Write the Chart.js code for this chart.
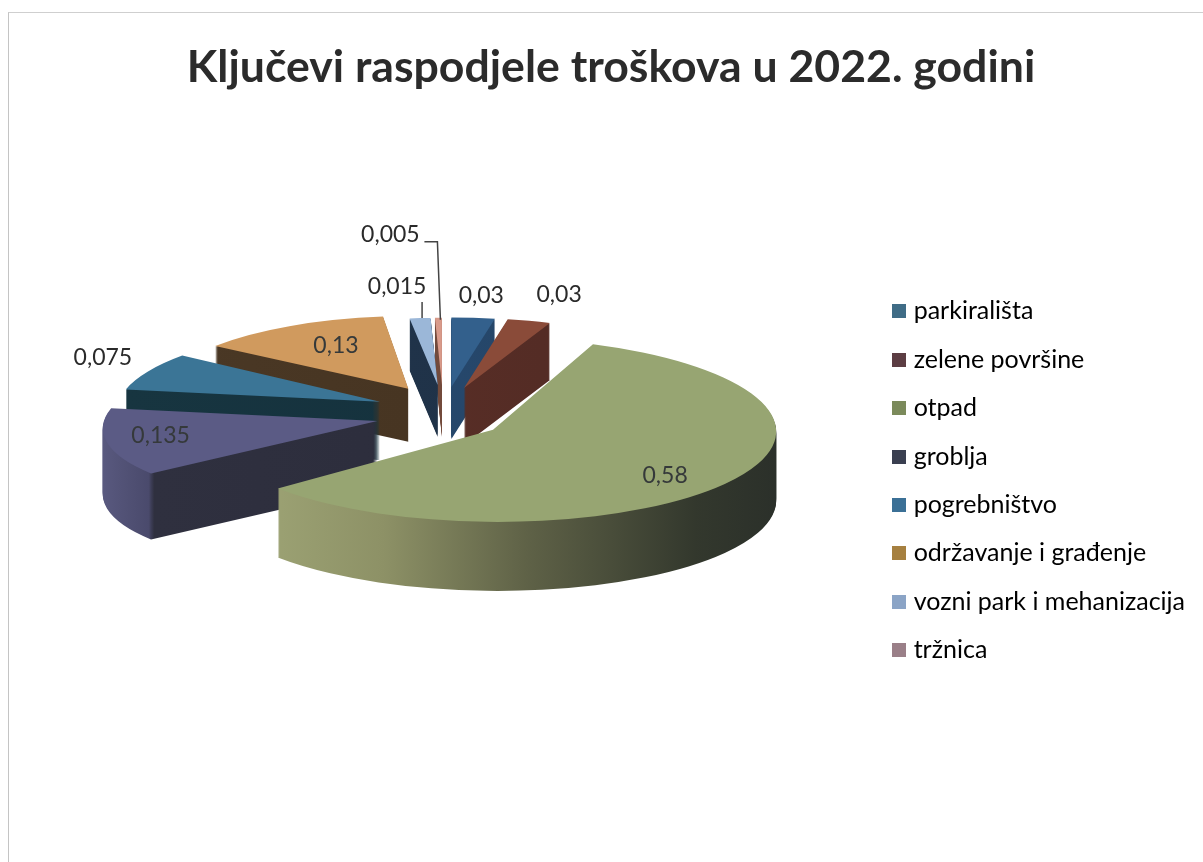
<!DOCTYPE html>
<html>
<head>
<meta charset="utf-8">
<title>Ključevi raspodjele troškova</title>
<script src="https://cdn.jsdelivr.net/npm/chart.js@4"></script>
<style>
  html, body { margin: 0; padding: 0; background: #fff; }
  #wrap { position: relative; width: 1203px; height: 862px; overflow: hidden; }
  #frame { position: absolute; left: 8px; top: 12px; right: -2px; bottom: -2px;
           border-left: 1px solid #c4c4c4; border-top: 1px solid #cfcfcf; }
  canvas { position: absolute; left: 0; top: 0; }
</style>
</head>
<body>
<div id="wrap">
  <div id="frame"></div>
  <canvas id="chart" width="1203" height="862"></canvas>
</div>
<script>
const categories = ['parkirališta', 'zelene površine', 'otpad', 'groblja', 'pogrebništvo',
  'održavanje i građenje', 'vozni park i mehanizacija', 'tržnica'];
const shares = [0.03, 0.03, 0.58, 0.135, 0.075, 0.13, 0.015, 0.005];

const topColors = ['#33608c', '#8a4b39', '#97a572', '#5b5b85', '#3b7596', '#d09a5e', '#9bb7d8', '#d89a8a'];
const legendColors = ['#3f6c86', '#5c3d43', '#7b8a5b', '#3a3f50', '#3b7096', '#a68040', '#8ba4c6', '#9a7f88'];
// side wall shading, left to right over the width of the full pie
const sideStops = [
  [[0, '#2a4f78'], [1, '#22405f']],
  [[0, '#5e3027'], [1, '#4f2a24']],
  [[0, '#a3aa7a'], [0.3, '#8d9166'], [0.55, '#5f6247'], [0.85, '#33382d'], [1, '#2b302a']],
  [[0, '#5a5a80'], [0.11, '#4a4a6c'], [0.12, '#2f303f'], [1, '#2a2b3a']],
  [[0, '#173540'], [1, '#14303c']],
  [[0, '#4a3825'], [1, '#44321f']],
  [[0, '#22364d'], [1, '#1d2f44']],
  [[0, '#7a5040'], [1, '#6a4436']]
];
// label shift from the middle of each slice's outer edge
const labelShift = [[8, -22], [30, -26], [-57, -8], [47, -7], [-36, -14], [51, 19], [-23, -31], [-48, -83]];

const pie = { x: 443, y: 412, pullX: 68, pullY: 27, tilt: 0.3 };
// hand fixes per slice, the fake perspective is not quite enough on its own
const sliceFix = [
  { dx: 2, dy: 2, dr: 8 },
  { dx: 2, dy: 2, dr: 8, dd: 5 },
  { dx: -5, dy: 2, dr: -3, shear: 0.05, tilt: 0.325, dd: 3 },
  { dy: 2, shear: -0.3, dd: 3 },
  { dr: 13, shear: -0.29 },
  { dr: 13, shear: -0.07 },
  {},
  {}
];

// where the slice ends up on screen, nearer slices come out bigger
function place(arc, i) {
  const fix = sliceFix[i];
  const mid = (arc.startAngle + arc.endAngle) / 2;
  const baseY = pie.y + Math.sin(mid) * pie.pullY;
  const tipX = pie.x + Math.cos(mid) * pie.pullX + (fix.dx || 0);
  const tipY = baseY + (fix.dy || 0);
  const radius = 224 + 1.45 * (baseY - 385) + (fix.dr || 0);
  const depth = 52 + 0.33 * (baseY - 385) + (fix.dd || 0);
  const tilt = fix.tilt || pie.tilt;
  return { tipX, tipY, radius, depth, tilt, shear: fix.shear || 0,
    edgeX: tipX + Math.cos(mid) * radius, edgeY: tipY + Math.sin(mid) * radius * tilt };
}

function drawFlat(ctx, arc, p, yOff, fill) {
  const s = p.radius / arc.outerRadius;
  const saved = arc.options;
  arc.options = Object.assign({}, saved, { backgroundColor: fill });
  ctx.save();
  ctx.translate(p.tipX, p.tipY + yOff);
  ctx.transform(1, 0, p.shear, 1, 0, 0);
  ctx.scale(s, s * p.tilt);
  ctx.translate(-arc.x, -arc.y);
  arc.draw(ctx);
  ctx.restore();
  arc.options = saved;
}

const tiltedPie = {
  id: 'tiltedPie',
  beforeDatasetDraw(chart) {
    const ctx = chart.ctx;
    const arcs = chart.getDatasetMeta(0).data.map((arc, i) => ({ arc, i, p: place(arc, i) }));
    arcs.sort((a, b) => a.p.tipY - b.p.tipY);
    arcs.forEach(({ arc, i, p }) => {
      const r = arc.outerRadius;
      const side = ctx.createLinearGradient(arc.x - r, 0, arc.x + r, 0);
      sideStops[i].forEach(st => side.addColorStop(st[0], st[1]));
      for (let d = Math.round(p.depth); d > 0; d--) {
        drawFlat(ctx, arc, p, d, side);
      }
      drawFlat(ctx, arc, p, 0, topColors[i]);
    });
    return false;
  },
  afterDatasetsDraw(chart) {
    const ctx = chart.ctx;
    ctx.save();
    ctx.font = '23px Lato';
    ctx.textAlign = 'center';
    ctx.textBaseline = 'middle';
    chart.getDatasetMeta(0).data.forEach((arc, i) => {
      const p = place(arc, i);
      const lx = p.edgeX + labelShift[i][0];
      const ly = p.edgeY + labelShift[i][1];
      ctx.fillStyle = i > 1 && i < 6 && i !== 4 ? '#35393a' : '#2a2a2a';
      ctx.fillText(String(shares[i]).replace('.', ','), lx, ly);
      // the two thin slices have leader lines
      if (i >= 6) {
        ctx.strokeStyle = '#444';
        ctx.lineWidth = 1.5;
        ctx.beginPath();
        if (i === 6) {
          ctx.moveTo(p.edgeX + 2, ly + 15);
          ctx.lineTo(p.edgeX + 2, p.edgeY);
        } else {
          ctx.moveTo(lx + 34, ly + 7);
          ctx.lineTo(lx + 47, ly + 7);
          ctx.lineTo(p.edgeX + 2, p.edgeY + 2);
        }
        ctx.stroke();
      }
    });
    ctx.restore();
  }
};

// legend swatches as small canvases, so they can sit closer to the text than a box does
function swatch(color) {
  const c = document.createElement('canvas');
  c.width = 14;
  c.height = 14;
  const g = c.getContext('2d');
  g.fillStyle = color;
  g.fillRect(0, 0, 14, 14);
  return c;
}

new Chart(document.getElementById('chart'), {
  type: 'pie',
  data: {
    labels: categories,
    datasets: [{ data: shares, backgroundColor: topColors, borderWidth: 0 }]
  },
  plugins: [tiltedPie],
  options: {
    responsive: false,
    animation: false,
    events: [],
    layout: { padding: { left: 27, right: 8, top: 0, bottom: 176 } },
    plugins: {
      tooltip: { enabled: false },
      title: {
        display: true,
        text: 'Ključevi raspodjele troškova u 2022. godini',
        color: '#2b2b2b',
        font: { family: 'Lato', size: 44.6, weight: 'bold' },
        padding: { top: 41, bottom: 20 }
      },
      legend: {
        position: 'right',
        align: 'end',
        labels: {
          color: '#222',
          font: { family: 'Lato', size: 25 },
          usePointStyle: true,
          pointStyleWidth: 4,
          boxHeight: 14,
          padding: 23.4,
          generateLabels() {
            return categories.map((c, i) => ({
              text: c, fillStyle: legendColors[i], strokeStyle: legendColors[i],
              lineWidth: 0, pointStyle: swatch(legendColors[i]), index: i, hidden: false
            }));
          }
        }
      }
    }
  }
});
</script>
</body>
</html>
